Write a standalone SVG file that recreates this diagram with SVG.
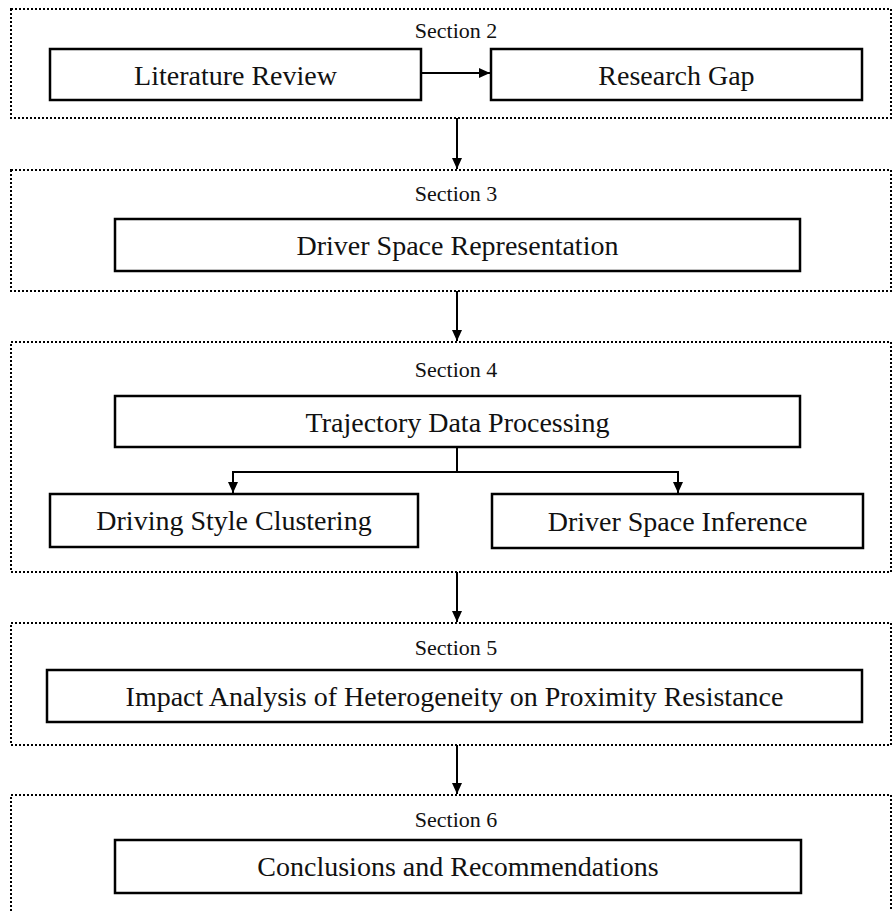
<svg xmlns="http://www.w3.org/2000/svg" width="892" height="911" viewBox="0 0 892 911">
<defs>
<marker id="ah" markerWidth="12" markerHeight="10" refX="11" refY="5" orient="auto" markerUnits="userSpaceOnUse">
<path d="M0,0 L11,5 L0,10 z" fill="#000"/>
</marker>
<style>
.sec{fill:none;stroke:#000;stroke-width:2;stroke-dasharray:2 2}
.box{fill:#fff;stroke:#000;stroke-width:2.5}
.lbl{font-family:"Liberation Serif","Times New Roman",serif;font-size:22px;fill:#111;text-anchor:middle}
.txt{font-family:"Liberation Serif","Times New Roman",serif;font-size:28px;fill:#111;text-anchor:middle}
.con{fill:none;stroke:#000;stroke-width:2}
</style>
</defs>
<rect width="892" height="911" fill="#fff"/>
<g id="section2">
<rect class="sec" x="11" y="9" width="880" height="109"/>
<text class="lbl" x="456" y="38">Section 2</text>
</g>
<g id="section3">
<rect class="sec" x="11" y="170" width="880" height="121"/>
<text class="lbl" x="456" y="201">Section 3</text>
</g>
<g id="section4">
<rect class="sec" x="11" y="342" width="880" height="230"/>
<text class="lbl" x="456" y="377">Section 4</text>
</g>
<g id="section5">
<rect class="sec" x="11" y="623" width="880" height="122"/>
<text class="lbl" x="456" y="655">Section 5</text>
</g>
<g id="section6">
<rect class="sec" x="11" y="795" width="880" height="130"/>
<text class="lbl" x="456" y="827">Section 6</text>
</g>
<g id="literature-review">
<rect class="box" x="50" y="49" width="371" height="51"/>
<text class="txt" x="235.5" y="85">Literature Review</text>
</g>
<g id="research-gap">
<rect class="box" x="491" y="49" width="371" height="51"/>
<text class="txt" x="676.5" y="85">Research Gap</text>
</g>
<g id="driver-space-representation">
<rect class="box" x="115" y="219" width="685" height="52"/>
<text class="txt" x="457.5" y="255">Driver Space Representation</text>
</g>
<g id="trajectory-data-processing">
<rect class="box" x="115" y="396" width="685" height="51"/>
<text class="txt" x="457.5" y="432">Trajectory Data Processing</text>
</g>
<g id="driving-style-clustering">
<rect class="box" x="50" y="494" width="368" height="53"/>
<text class="txt" x="234" y="530">Driving Style Clustering</text>
</g>
<g id="driver-space-inference">
<rect class="box" x="492" y="494" width="371" height="54"/>
<text class="txt" x="677.5" y="531">Driver Space Inference</text>
</g>
<g id="impact-analysis">
<rect class="box" x="47" y="670" width="815" height="52"/>
<text class="txt" x="454.5" y="706">Impact Analysis of Heterogeneity on Proximity Resistance</text>
</g>
<g id="conclusions">
<rect class="box" x="115" y="840" width="686" height="53"/>
<text class="txt" x="458" y="876">Conclusions and Recommendations</text>
</g>
<g id="connectors">
<line class="con" x1="422" y1="73" x2="490" y2="73" marker-end="url(#ah)"/>
<line class="con" x1="457" y1="118" x2="457" y2="169" marker-end="url(#ah)"/>
<line class="con" x1="457" y1="291" x2="457" y2="341" marker-end="url(#ah)"/>
<polyline class="con" points="457,447 457,472"/>
<polyline class="con" points="233,472 678,472"/>
<line class="con" x1="233" y1="471" x2="233" y2="493" marker-end="url(#ah)"/>
<line class="con" x1="678" y1="471" x2="678" y2="493" marker-end="url(#ah)"/>
<line class="con" x1="457" y1="572" x2="457" y2="622" marker-end="url(#ah)"/>
<line class="con" x1="457" y1="745" x2="457" y2="794" marker-end="url(#ah)"/>
</g>
</svg>
